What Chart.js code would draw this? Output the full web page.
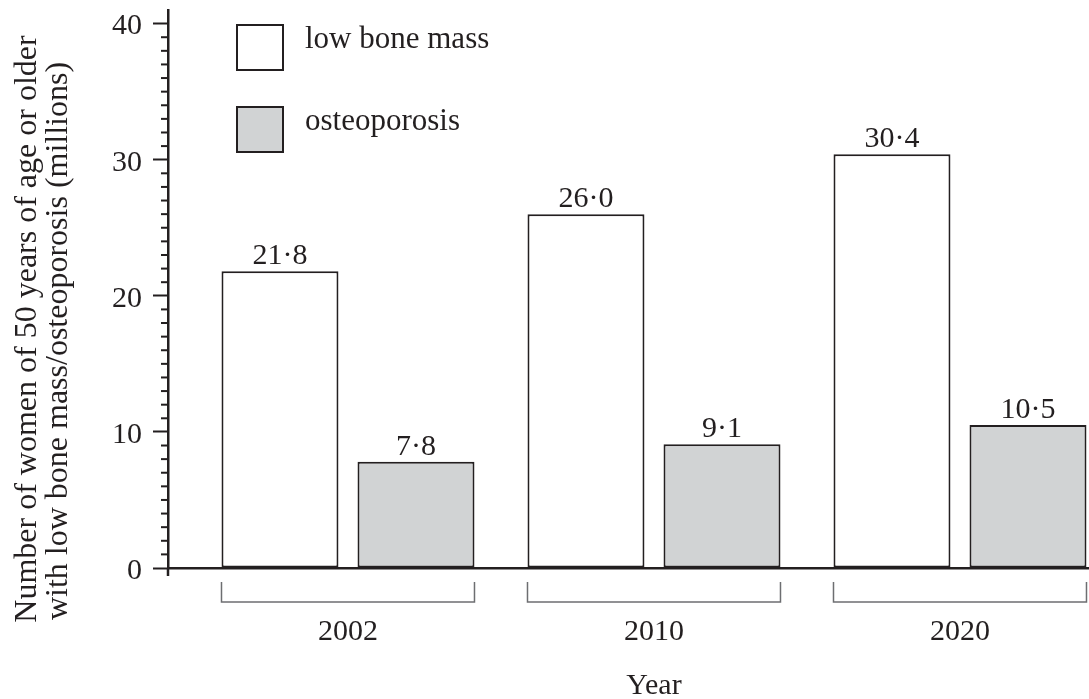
<!DOCTYPE html>
<html>
<head>
<meta charset="utf-8">
<script src="https://cdn.jsdelivr.net/npm/chart.js@4.4.0/dist/chart.umd.min.js"></script>
<style>
  html, body { margin: 0; padding: 0; background: #fff; }
  canvas { display: block; }
</style>
</head>
<body>
<canvas id="grafica" width="1089" height="699"></canvas>
<script>
// datos
const years = ['2002', '2010', '2020'];
const seriesNames = ['low bone mass', 'osteoporosis'];
const lowBoneMass = [21.8, 26.0, 30.4];
const osteoporosis = [7.8, 9.1, 10.5];
const yTicks = [0, 10, 20, 30, 40];
const yTitle = ['Number of women of 50 years of age or older', 'with low bone mass/osteoporosis (millions)'];
const xTitle = 'Year';

const INK = '#231f20';
const SERIF = "'Liberation Serif', 'Times New Roman', serif";

Chart.defaults.font.family = SERIF;
Chart.defaults.color = INK;

const toPoints = (arr) => arr.map((v, i) => ({ x: i, y: v }));

// ticks menores, brackets, etiquetas, leyenda y titulos
const extras = {
    id: 'extras',
    afterDraw(chart) {
        const { ctx, chartArea, scales: { x, y } } = chart;
        ctx.save();
        ctx.strokeStyle = INK;
        ctx.fillStyle = INK;

        // ticks menores del eje y
        ctx.lineWidth = 2;
        for (let v = 1; v < 40; v++) {
            if (v % 10 === 0) continue;
            const py = y.getPixelForValue(v);
            ctx.beginPath();
            ctx.moveTo(chartArea.left - 7, py);
            ctx.lineTo(chartArea.left, py);
            ctx.stroke();
        }
        // el eje y baja un poco por debajo del cero
        ctx.lineWidth = 2.5;
        ctx.beginPath();
        ctx.moveTo(chartArea.left, y.getPixelForValue(0));
        ctx.lineTo(chartArea.left, y.getPixelForValue(0) + 8);
        ctx.stroke();

        // corchetes bajo cada grupo
        const m0 = chart.getDatasetMeta(0);
        const m1 = chart.getDatasetMeta(1);
        ctx.strokeStyle = '#6d6e71';
        ctx.lineWidth = 1.5;
        const b0 = chartArea.bottom + 14;
        const b1 = chartArea.bottom + 34;
        years.forEach((yr, i) => {
            const l = m0.data[i].x - m0.data[i].width / 2;
            const r = m1.data[i].x + m1.data[i].width / 2;
            ctx.beginPath();
            ctx.moveTo(l, b0);
            ctx.lineTo(l, b1);
            ctx.lineTo(r, b1);
            ctx.lineTo(r, b0);
            ctx.stroke();
        });

        // valores encima de las barras
        ctx.font = '30px ' + SERIF;
        ctx.textAlign = 'center';
        ctx.textBaseline = 'alphabetic';
        chart.data.datasets.forEach((ds, di) => {
            const meta = chart.getDatasetMeta(di);
            meta.data.forEach((bar, i) => {
                const txt = ds.data[i].y.toFixed(1).replace('.', '·');
                ctx.fillText(txt, bar.x, bar.y - 7);
            });
        });

        // leyenda
        ctx.textAlign = 'left';
        ctx.font = '31px ' + SERIF;
        chart.data.datasets.forEach((ds, di) => {
            const bx = chartArea.left + 68;
            const by = chartArea.top + 14 + di * 82;
            ctx.fillStyle = ds.backgroundColor;
            ctx.fillRect(bx, by, 48, 47);
            ctx.strokeStyle = INK;
            ctx.lineWidth = 2;
            ctx.strokeRect(bx + 1, by + 1, 46, 45);
            ctx.fillStyle = INK;
            ctx.fillText(ds.label, bx + 69, by + 24);
        });

        // titulo eje y (dos lineas)
        ctx.font = '32px ' + SERIF;
        ctx.textAlign = 'center';
        const tPos = [[36, 329], [67, 341]];
        yTitle.forEach((line, k) => {
            ctx.save();
            ctx.translate(tPos[k][0], tPos[k][1]);
            ctx.rotate(-Math.PI / 2);
            ctx.fillText(line, 0, 0);
            ctx.restore();
        });

        // titulo eje x
        ctx.font = '30px ' + SERIF;
        ctx.fillText(xTitle, x.getPixelForValue(1), chartArea.bottom + 126);

        ctx.restore();
    }
};

const config = {
    type: 'bar',
    data: {
        datasets: [
            {
                label: seriesNames[0],
                data: toPoints(lowBoneMass),
                backgroundColor: '#ffffff',
                borderColor: INK,
                borderWidth: 2,
                borderSkipped: false
            },
            {
                label: seriesNames[1],
                data: toPoints(osteoporosis),
                backgroundColor: '#d1d3d4',
                borderColor: INK,
                borderWidth: 2,
                borderSkipped: false
            }
        ]
    },
    options: {
        responsive: false,
        animation: false,
        devicePixelRatio: 1,
        categoryPercentage: 0.889,
        barPercentage: 0.86,
        layout: { padding: { top: 10, left: 0, right: 0, bottom: 0 } },
        plugins: {
            legend: { display: false },
            tooltip: { enabled: false }
        },
        scales: {
            x: {
                type: 'linear',
                offset: false,
                min: -0.5882,
                max: 2.4216,
                afterBuildTicks: (scale) => {
                    scale.ticks = years.map((yr, i) => ({ value: i }));
                },
                afterFit: (scale) => {
                    scale.height = 131;
                    scale.paddingLeft = 0;
                    scale.paddingRight = 0;
                },
                grid: { display: false, drawTicks: false, offset: false },
                border: { display: true, color: INK, width: 2.5 },
                ticks: {
                    autoSkip: false,
                    maxRotation: 0,
                    padding: 46,
                    font: { size: 30 },
                    callback: (value, index) => years[index]
                }
            },
            y: {
                min: 0,
                max: 41,
                afterBuildTicks: (scale) => {
                    scale.ticks = yTicks.map(v => ({ value: v }));
                },
                afterFit: (scale) => {
                    scale.width = 168;
                    scale.paddingTop = 0;
                    scale.paddingBottom = 0;
                },
                grid: {
                    drawOnChartArea: false,
                    drawTicks: true,
                    tickLength: 15,
                    tickWidth: 2,
                    tickColor: INK
                },
                border: { display: true, color: INK, width: 2.5 },
                ticks: {
                    padding: 11,
                    labelOffset: 3,
                    font: { size: 30 }
                }
            }
        }
    },
    plugins: [extras]
};

const ChartPrincipal = new Chart(document.getElementById('grafica'), config);
</script>
</body>
</html>
